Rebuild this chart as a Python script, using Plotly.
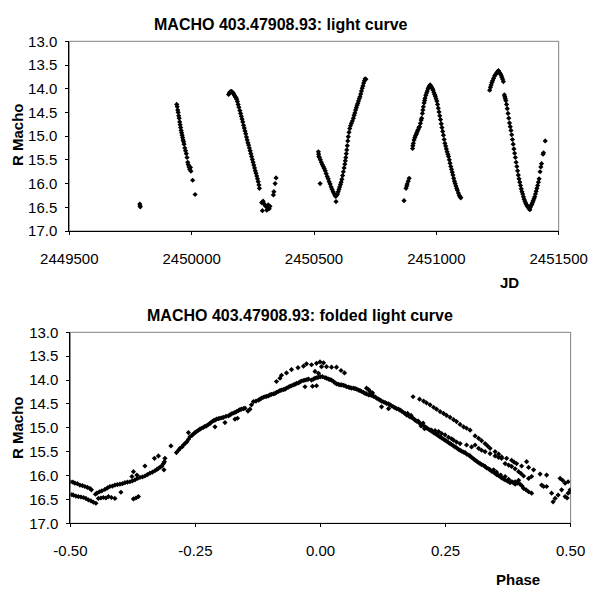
import plotly.graph_objects as go

# ---- light curve (JD vs R mag) ----
jd = [
    2449788, 2449789, 2449790,
    2449939, 2449941, 2449943, 2449945, 2449947, 2449949, 2449951, 2449953, 2449955, 2449957,
    2449959, 2449961, 2449963, 2449965, 2449967, 2449969, 2449972, 2449975, 2449978, 2449981,
    2449984, 2449986, 2449989, 2449992, 2449995, 2449997, 2450004, 2450014,
    2450151, 2450154, 2450157, 2450160, 2450163, 2450166, 2450169, 2450172, 2450175, 2450178,
    2450181, 2450184, 2450187, 2450190, 2450193, 2450197, 2450200, 2450203, 2450206, 2450209,
    2450212, 2450215, 2450218, 2450221, 2450224, 2450227, 2450230, 2450233, 2450236, 2450239,
    2450242, 2450245, 2450248, 2450251, 2450254, 2450257, 2450260, 2450263, 2450266, 2450269,
    2450272, 2450275, 2450277,
    2450286, 2450289, 2450292, 2450295, 2450299, 2450303, 2450307, 2450310, 2450313, 2450317,
    2450320, 2450334, 2450336, 2450341, 2450345,
    2450518, 2450519, 2450520, 2450522, 2450525, 2450526, 2450530, 2450534, 2450538, 2450542,
    2450546, 2450550, 2450554, 2450558, 2450562, 2450566, 2450570, 2450574, 2450578, 2450582,
    2450586, 2450589, 2450590, 2450593,
    2450596, 2450599, 2450602, 2450605, 2450608, 2450611, 2450614, 2450617, 2450620, 2450623,
    2450626, 2450628, 2450630, 2450632, 2450634, 2450636, 2450638, 2450640, 2450643, 2450646,
    2450649, 2450653, 2450657, 2450661, 2450664, 2450667, 2450670, 2450673, 2450676, 2450679,
    2450682, 2450685, 2450688, 2450691, 2450694, 2450697, 2450700, 2450703, 2450706, 2450709,
    2450712,
    2450868, 2450876, 2450879, 2450881, 2450885, 2450889, 2450903, 2450904, 2450906, 2450909,
    2450912, 2450915, 2450918, 2450920, 2450923, 2450926, 2450929, 2450931, 2450935, 2450938,
    2450940, 2450943, 2450945, 2450947, 2450950, 2450952, 2450954, 2450957, 2450960, 2450963,
    2450966, 2450969, 2450972, 2450975, 2450978, 2450981, 2450984, 2450987, 2450990, 2450993,
    2450996, 2450999, 2451002, 2451005, 2451008, 2451011, 2451014, 2451017, 2451020, 2451023,
    2451026, 2451029, 2451032, 2451035, 2451038, 2451041, 2451044, 2451047, 2451050, 2451053,
    2451056, 2451059, 2451062, 2451065, 2451068, 2451071, 2451074, 2451077, 2451080, 2451083,
    2451086, 2451090, 2451094, 2451097, 2451100,
    2451218, 2451221, 2451224, 2451227, 2451230, 2451234, 2451238, 2451242, 2451246, 2451250,
    2451254, 2451258, 2451262, 2451265, 2451268, 2451271, 2451274, 2451278, 2451280, 2451282,
    2451284, 2451287, 2451290, 2451293, 2451296, 2451299, 2451302, 2451305, 2451308, 2451311,
    2451314, 2451317, 2451320, 2451323, 2451326, 2451329, 2451332, 2451335, 2451338, 2451341,
    2451344, 2451347, 2451350, 2451353, 2451356, 2451359, 2451362, 2451365, 2451368, 2451371,
    2451374, 2451377, 2451380, 2451382, 2451384, 2451387, 2451390, 2451393, 2451396, 2451399,
    2451402, 2451405, 2451408, 2451411, 2451414, 2451417, 2451420, 2451424, 2451427, 2451430,
    2451436, 2451438, 2451445,
]
r_mag = [
    16.43, 16.47, 16.49,
    14.33, 14.38, 14.45, 14.50, 14.57, 14.62, 14.70, 14.76, 14.82, 14.88,
    14.93, 14.98, 15.03, 15.08, 15.12, 15.17, 15.25, 15.31, 15.37, 15.45,
    15.55, 15.60, 15.65, 15.70, 15.66, 15.74, 15.93, 16.23,
    14.12, 14.09, 14.07, 14.06, 14.06, 14.07, 14.09, 14.11, 14.14, 14.17,
    14.19, 14.22, 14.27, 14.33, 14.39, 14.46, 14.52, 14.58, 14.64, 14.70,
    14.77, 14.83, 14.89, 14.95, 15.02, 15.08, 15.14, 15.19, 15.25, 15.31,
    15.37, 15.43, 15.49, 15.55, 15.61, 15.67, 15.73, 15.78, 15.84, 15.90,
    15.96, 16.03, 16.10,
    16.40, 16.57, 16.37, 16.42, 16.45, 16.48, 16.56, 16.50, 16.45, 16.53,
    16.48, 16.24, 16.17, 16.00, 15.88,
    15.33, 15.38, 15.43, 15.45, 16.00, 15.50, 15.55, 15.60, 15.64, 15.68,
    15.73, 15.79, 15.85, 15.90, 15.96, 16.01, 16.07, 16.12, 16.17, 16.21,
    16.25, 16.27, 16.38, 16.24,
    16.22, 16.17, 16.12, 16.07, 16.02, 15.97, 15.91, 15.83, 15.75, 15.67,
    15.59, 15.52, 15.45, 15.37, 15.29, 15.20, 15.10, 15.01, 14.92, 14.84,
    14.78, 14.73, 14.68, 14.62, 14.56, 14.51, 14.45, 14.40, 14.35, 14.31,
    14.26, 14.21, 14.17, 14.11, 14.05, 13.99, 13.94, 13.88, 13.83, 13.79,
    13.80,
    16.36, 16.10, 16.05, 16.01, 15.95, 15.89, 15.26, 15.20, 15.15, 15.08,
    15.03, 14.99, 14.96, 14.93, 14.89, 14.86, 14.82, 14.80, 14.73, 14.66,
    14.62, 14.52, 14.45, 14.38, 14.30, 14.25, 14.20, 14.14, 14.09, 14.05,
    14.00, 13.97, 13.94, 13.92, 13.95, 13.97, 14.00, 14.03, 14.08, 14.12,
    14.16, 14.21, 14.26, 14.33, 14.41, 14.49, 14.57, 14.65, 14.74, 14.82,
    14.90, 14.98, 15.07, 15.15, 15.21, 15.27, 15.33, 15.38, 15.43, 15.50,
    15.57, 15.64, 15.70, 15.76, 15.82, 15.89, 15.95, 16.00, 16.05, 16.10,
    16.14, 16.20, 16.25, 16.28, 16.30,
    14.03, 13.97, 13.92, 13.87, 13.83, 13.78, 13.73, 13.70, 13.67, 13.64,
    13.62, 13.66, 13.69, 13.72, 13.76, 13.80, 13.85, 14.13, 14.17, 14.21,
    14.25, 14.33, 14.42, 14.52, 14.62, 14.72, 14.80, 14.88, 14.97, 15.07,
    15.17, 15.27, 15.36, 15.45, 15.55, 15.64, 15.73, 15.82, 15.90, 15.97,
    16.04, 16.11, 16.17, 16.22, 16.28, 16.33, 16.37, 16.41, 16.44, 16.47,
    16.49, 16.51, 16.53, 16.55, 16.50, 16.46, 16.44, 16.40, 16.36, 16.32,
    16.28, 16.22, 16.16, 16.10, 16.04, 15.97, 15.90, 15.75, 15.65, 15.58,
    15.38, 15.35, 15.10,
]

# ---- folded light curve (phase vs R mag) ----
phase = [
    -0.500, -0.495, -0.491, -0.486, -0.481, -0.476, -0.471, -0.466, -0.461, -0.458,
    -0.497, -0.494, -0.489, -0.484, -0.479, -0.474, -0.469, -0.464, -0.459, -0.454, -0.449,
    -0.444, -0.439, -0.434, -0.429, -0.424, -0.418, -0.411,
    -0.450, -0.447, -0.442, -0.437, -0.431, -0.426, -0.421, -0.416, -0.411, -0.406,
    -0.401, -0.396, -0.391, -0.386, -0.381, -0.376, -0.371, -0.366, -0.361, -0.356,
    -0.351, -0.346, -0.341, -0.336, -0.331, -0.327, -0.324, -0.320, -0.317, -0.314,
    -0.312, -0.311,
    -0.399, -0.377, -0.367, -0.374, -0.351, -0.332, -0.324, -0.313, -0.374, -0.369, -0.364,
    -0.299,
    -0.288, -0.284, -0.281, -0.277, -0.274, -0.270, -0.267, -0.264, -0.261, -0.257,
    -0.254, -0.251, -0.248, -0.244, -0.241, -0.238, -0.234, -0.231, -0.228, -0.224,
    -0.221, -0.218, -0.214, -0.211, -0.208, -0.204, -0.201, -0.197, -0.194, -0.189,
    -0.184, -0.181, -0.178, -0.174, -0.171, -0.168, -0.164, -0.161, -0.158, -0.154, -0.151,
    -0.264, -0.211, -0.191, -0.171, -0.166, -0.141, -0.145,
    -0.138, -0.134, -0.129, -0.124, -0.121, -0.118, -0.114, -0.111, -0.108, -0.104,
    -0.101, -0.098, -0.094, -0.091, -0.088, -0.084, -0.081, -0.078, -0.074, -0.071,
    -0.068, -0.064, -0.061, -0.058, -0.054, -0.051, -0.048, -0.044, -0.041, -0.038,
    -0.034, -0.031, -0.027, -0.024, -0.018, -0.014, -0.011, -0.007, -0.004, 0.000,
    0.004, 0.009, 0.012, 0.016, 0.019, 0.022, 0.026, 0.029, 0.032, 0.036,
    0.039, 0.042, 0.046, 0.049, 0.052, 0.056, 0.059, 0.062, 0.066, 0.069,
    0.072, 0.076, 0.079, 0.082, 0.086, 0.089, 0.092, 0.096, 0.099, 0.102,
    0.106, 0.109, 0.112, 0.116, 0.119, 0.122, 0.126, 0.129, 0.132, 0.136,
    0.139, 0.142, 0.146, 0.149, 0.152, 0.156, 0.159, 0.162, 0.166, 0.169,
    0.092, 0.096, 0.099, 0.104,
    -0.031, -0.016, -0.008, 0.122, 0.136,
    -0.088, -0.081, -0.068, -0.058, -0.034, -0.028, -0.018, -0.008, -0.001, 0.006,
    0.002, 0.012, 0.022, 0.032, 0.041, 0.048, -0.011, -0.004, -0.078, -0.045,
    0.172, 0.176, 0.179, 0.182, 0.186, 0.189, 0.192, 0.196, 0.199, 0.202,
    0.206, 0.209, 0.212, 0.216, 0.219, 0.222, 0.226, 0.229, 0.232, 0.236,
    0.239, 0.242, 0.246, 0.249, 0.252, 0.256, 0.259, 0.262, 0.266, 0.269,
    0.272, 0.276, 0.279, 0.282, 0.286, 0.289, 0.292, 0.296, 0.299, 0.302,
    0.306, 0.309, 0.312, 0.316, 0.319, 0.322, 0.326, 0.329, 0.332, 0.336,
    0.339, 0.342, 0.346, 0.349, 0.352, 0.356, 0.359, 0.362, 0.366, 0.369,
    0.374, 0.379, 0.384, 0.389, 0.394, 0.399, 0.403, 0.406, 0.411, 0.416, 0.422,
    0.174, 0.181, 0.195, 0.201, 0.205, 0.208,
    0.185, 0.198, 0.206, 0.212, 0.219, 0.226, 0.232, 0.239, 0.246, 0.252,
    0.259, 0.266, 0.272, 0.279, 0.286, 0.292, 0.299, 0.309, 0.316, 0.322,
    0.329, 0.334, 0.339, 0.349, 0.356, 0.362, 0.372, 0.382, 0.387, 0.392,
    0.402, 0.412, 0.416, 0.426, 0.439, 0.452, 0.479, 0.484, 0.489, 0.495, 0.499,
    0.222, 0.229, 0.236, 0.242, 0.249, 0.256, 0.262, 0.266, 0.272, 0.279,
    0.292, 0.302, 0.309, 0.316, 0.322, 0.329, 0.339, 0.349, 0.356, 0.362,
    0.369, 0.376, 0.382, 0.389, 0.396, 0.401, 0.406, 0.416, 0.422,
    0.346, 0.352, 0.360, 0.369, 0.376, 0.382, 0.389, 0.396,
    0.442, 0.446, 0.452, 0.462, 0.465, 0.469, 0.475, 0.482, 0.489, 0.493, 0.495, 0.499,
]
r_mag_folded = [
    16.13, 16.14, 16.16, 16.17, 16.20, 16.21, 16.23, 16.25, 16.27, 16.30,
    16.40, 16.41, 16.43, 16.44, 16.45, 16.46, 16.48, 16.51, 16.53, 16.56, 16.58,
    16.48, 16.47, 16.46, 16.47, 16.44, 16.46, 16.48,
    16.39, 16.37, 16.34, 16.32, 16.29, 16.26, 16.23, 16.22, 16.20, 16.19,
    16.18, 16.17, 16.15, 16.14, 16.13, 16.11, 16.09, 16.06, 16.04, 16.03,
    16.01, 15.98, 15.95, 15.93, 15.90, 15.87, 15.85, 15.82, 15.80, 15.75,
    15.71, 15.64,
    16.35, 16.02, 15.99, 15.92, 15.80, 15.64, 15.59, 15.88, 16.49, 16.47, 16.44,
    15.38,
    15.52, 15.47, 15.43, 15.40, 15.36, 15.32, 15.29, 15.24, 15.19, 15.16,
    15.13, 15.10, 15.08, 15.05, 15.03, 15.01, 14.99, 14.97, 14.96, 14.93,
    14.91, 14.88, 14.85, 14.84, 14.82, 14.81, 14.80, 14.79, 14.78, 14.76,
    14.75, 14.73, 14.71, 14.69, 14.68, 14.66, 14.64, 14.62, 14.61, 14.60, 14.59,
    15.10, 14.98, 14.89, 14.82, 14.80, 14.61, 14.65,
    14.52, 14.45, 14.44, 14.42, 14.40, 14.38, 14.36, 14.35, 14.34, 14.33,
    14.31, 14.30, 14.29, 14.28, 14.26, 14.24, 14.22, 14.21, 14.20, 14.19,
    14.17, 14.15, 14.13, 14.12, 14.10, 14.09, 14.07, 14.06, 14.04, 14.02,
    14.01, 14.00, 13.99, 13.98, 14.00, 13.98, 13.96, 13.95, 13.94, 13.93,
    13.93, 13.95, 13.96, 13.98, 13.99, 14.00, 14.03, 14.06, 14.08, 14.09,
    14.10, 14.10, 14.11, 14.12, 14.14, 14.15, 14.16, 14.17, 14.17, 14.18,
    14.19, 14.21, 14.22, 14.24, 14.26, 14.28, 14.29, 14.31, 14.31, 14.32,
    14.34, 14.35, 14.38, 14.40, 14.42, 14.44, 14.46, 14.47, 14.49, 14.50,
    14.52, 14.54, 14.56, 14.58, 14.60, 14.61, 14.63, 14.65, 14.68, 14.70,
    14.17, 14.20, 14.24, 14.27,
    14.14, 14.13, 14.12, 14.56, 14.60,
    14.03, 13.96, 13.85, 13.78, 13.71, 13.66, 13.68, 13.65, 13.62, 13.64,
    13.72, 13.72, 13.73, 13.73, 13.80, 13.85, 13.82, 13.86, 13.90, 13.74,
    14.73, 14.75, 14.77, 14.78, 14.81, 14.84, 14.86, 14.88, 14.91, 14.93,
    14.96, 14.98, 15.00, 15.03, 15.05, 15.07, 15.10, 15.12, 15.14, 15.17,
    15.19, 15.21, 15.24, 15.26, 15.28, 15.31, 15.33, 15.35, 15.38, 15.40,
    15.42, 15.45, 15.47, 15.49, 15.51, 15.52, 15.55, 15.57, 15.59, 15.62,
    15.65, 15.68, 15.70, 15.73, 15.75, 15.77, 15.79, 15.81, 15.84, 15.86,
    15.88, 15.91, 15.93, 15.95, 15.98, 16.00, 16.02, 16.05, 16.07, 16.09,
    16.12, 16.15, 16.14, 16.13, 16.16, 16.18, 16.22, 16.27, 16.30, 16.34, 16.37,
    14.70, 14.74, 14.86, 14.96, 14.90, 15.02,
    14.35, 14.40, 14.44, 14.48, 14.52, 14.57, 14.61, 14.66, 14.70, 14.74,
    14.78, 14.83, 14.87, 14.93, 14.98, 15.01, 15.05, 15.17, 15.22, 15.27,
    15.33, 15.38, 15.43, 15.50, 15.55, 15.61, 15.64, 15.68, 15.72, 15.75,
    15.80, 15.71, 15.83, 15.88, 15.97, 15.99, 16.06, 16.10, 16.16, 16.13, 16.34,
    15.05, 15.06, 15.08, 15.12, 15.15, 15.20, 15.23, 15.26, 15.30, 15.33,
    15.36, 15.40, 15.36, 15.43, 15.47, 15.50, 15.54, 15.59, 15.62, 15.64,
    15.75, 15.78, 15.81, 15.86, 15.92, 15.96, 16.01, 16.06, 16.02,
    15.88, 15.93, 15.99, 16.02, 16.08, 16.13, 16.18, 16.10,
    16.20, 16.23, 16.23, 16.37, 16.55, 16.48, 16.41, 16.30, 16.44, 16.47, 16.37, 16.30,
]
assert len(jd) == len(r_mag), (len(jd), len(r_mag))
assert len(phase) == len(r_mag_folded), (len(phase), len(r_mag_folded))

mag_ticks = [13.0, 13.5, 14.0, 14.5, 15.0, 15.5, 16.0, 16.5, 17.0]
jd_ticks = [2449500, 2450000, 2450500, 2451000, 2451500]
phase_ticks = [-0.5, -0.25, 0.0, 0.25, 0.5]
phase_labels = ["-0.50", "-0.25", "0.00", "0.25", "0.50"]

FONT = "Liberation Sans, Arial, sans-serif"
mk = dict(symbol="diamond", size=4, color="black", line=dict(width=0))

fig = go.Figure()
fig.add_trace(go.Scatter(x=jd, y=r_mag, mode="markers", marker=mk,
                         xaxis="x", yaxis="y", showlegend=False))
fig.add_trace(go.Scatter(x=phase, y=r_mag_folded, mode="markers", marker=mk,
                         xaxis="x2", yaxis="y2", showlegend=False))

# page body has an 8px margin, so everything below is placed 8px up/left
ax = dict(showgrid=False, zeroline=False, showline=True, linecolor="black", linewidth=1,
          ticks="outside", ticklen=3, tickcolor="black", mirror=False, automargin=False,
          tickfont=dict(family=FONT, size=15, color="black"))
xax = dict(ax, ticklabelstandoff=11)
yax = dict(ax, ticklabelstandoff=5)
fig.update_layout(
    template="none",
    width=600, height=600, margin=dict(l=0, r=0, t=0, b=0, autoexpand=False),
    paper_bgcolor="white", plot_bgcolor="white", showlegend=False,
    xaxis=dict(xax, domain=[0.1022, 0.9178], range=[2449500, 2451500],
               tickvals=jd_ticks, tickformat="d", anchor="y"),
    yaxis=dict(yax, domain=[0.6283, 0.9445], range=[17, 13],
               tickvals=mag_ticks, tickformat=".1f", anchor="x"),
    xaxis2=dict(xax, domain=[0.104, 0.9377], range=[-0.5, 0.5],
                tickvals=phase_ticks, ticktext=phase_labels, anchor="y2"),
    yaxis2=dict(yax, domain=[0.1412, 0.4595], range=[17, 13],
                tickvals=mag_ticks, tickformat=".1f", anchor="x2"),
)

# grey frame on top / right like the original
for xr, yr in (("x domain", "y domain"), ("x2 domain", "y2 domain")):
    fig.add_shape(type="rect", xref=xr, yref=yr, x0=0, x1=1, y0=0, y1=1,
                  line=dict(color="#808080", width=1), layer="below")

def txt(s, x, y, size=15, angle=0):
    fig.add_annotation(text=f"<b>{s}</b>", x=x, y=y, xref="paper", yref="paper",
                       showarrow=False, textangle=angle, xanchor="center", yanchor="middle",
                       font=dict(family=FONT, size=size, color="black"))

txt("MACHO 403.47908.93: light curve", 0.455, 0.9733, size=16)
txt("MACHO 403.47908.93: folded light curve", 0.487, 0.4883, size=16)
txt("JD", 0.835, 0.5433)
txt("Phase", 0.8508, 0.0467)
txt("R Macho", 0.015, 0.7883, angle=-90)
txt("R Macho", 0.015, 0.30, angle=-90)

fig.write_html("out.html")
